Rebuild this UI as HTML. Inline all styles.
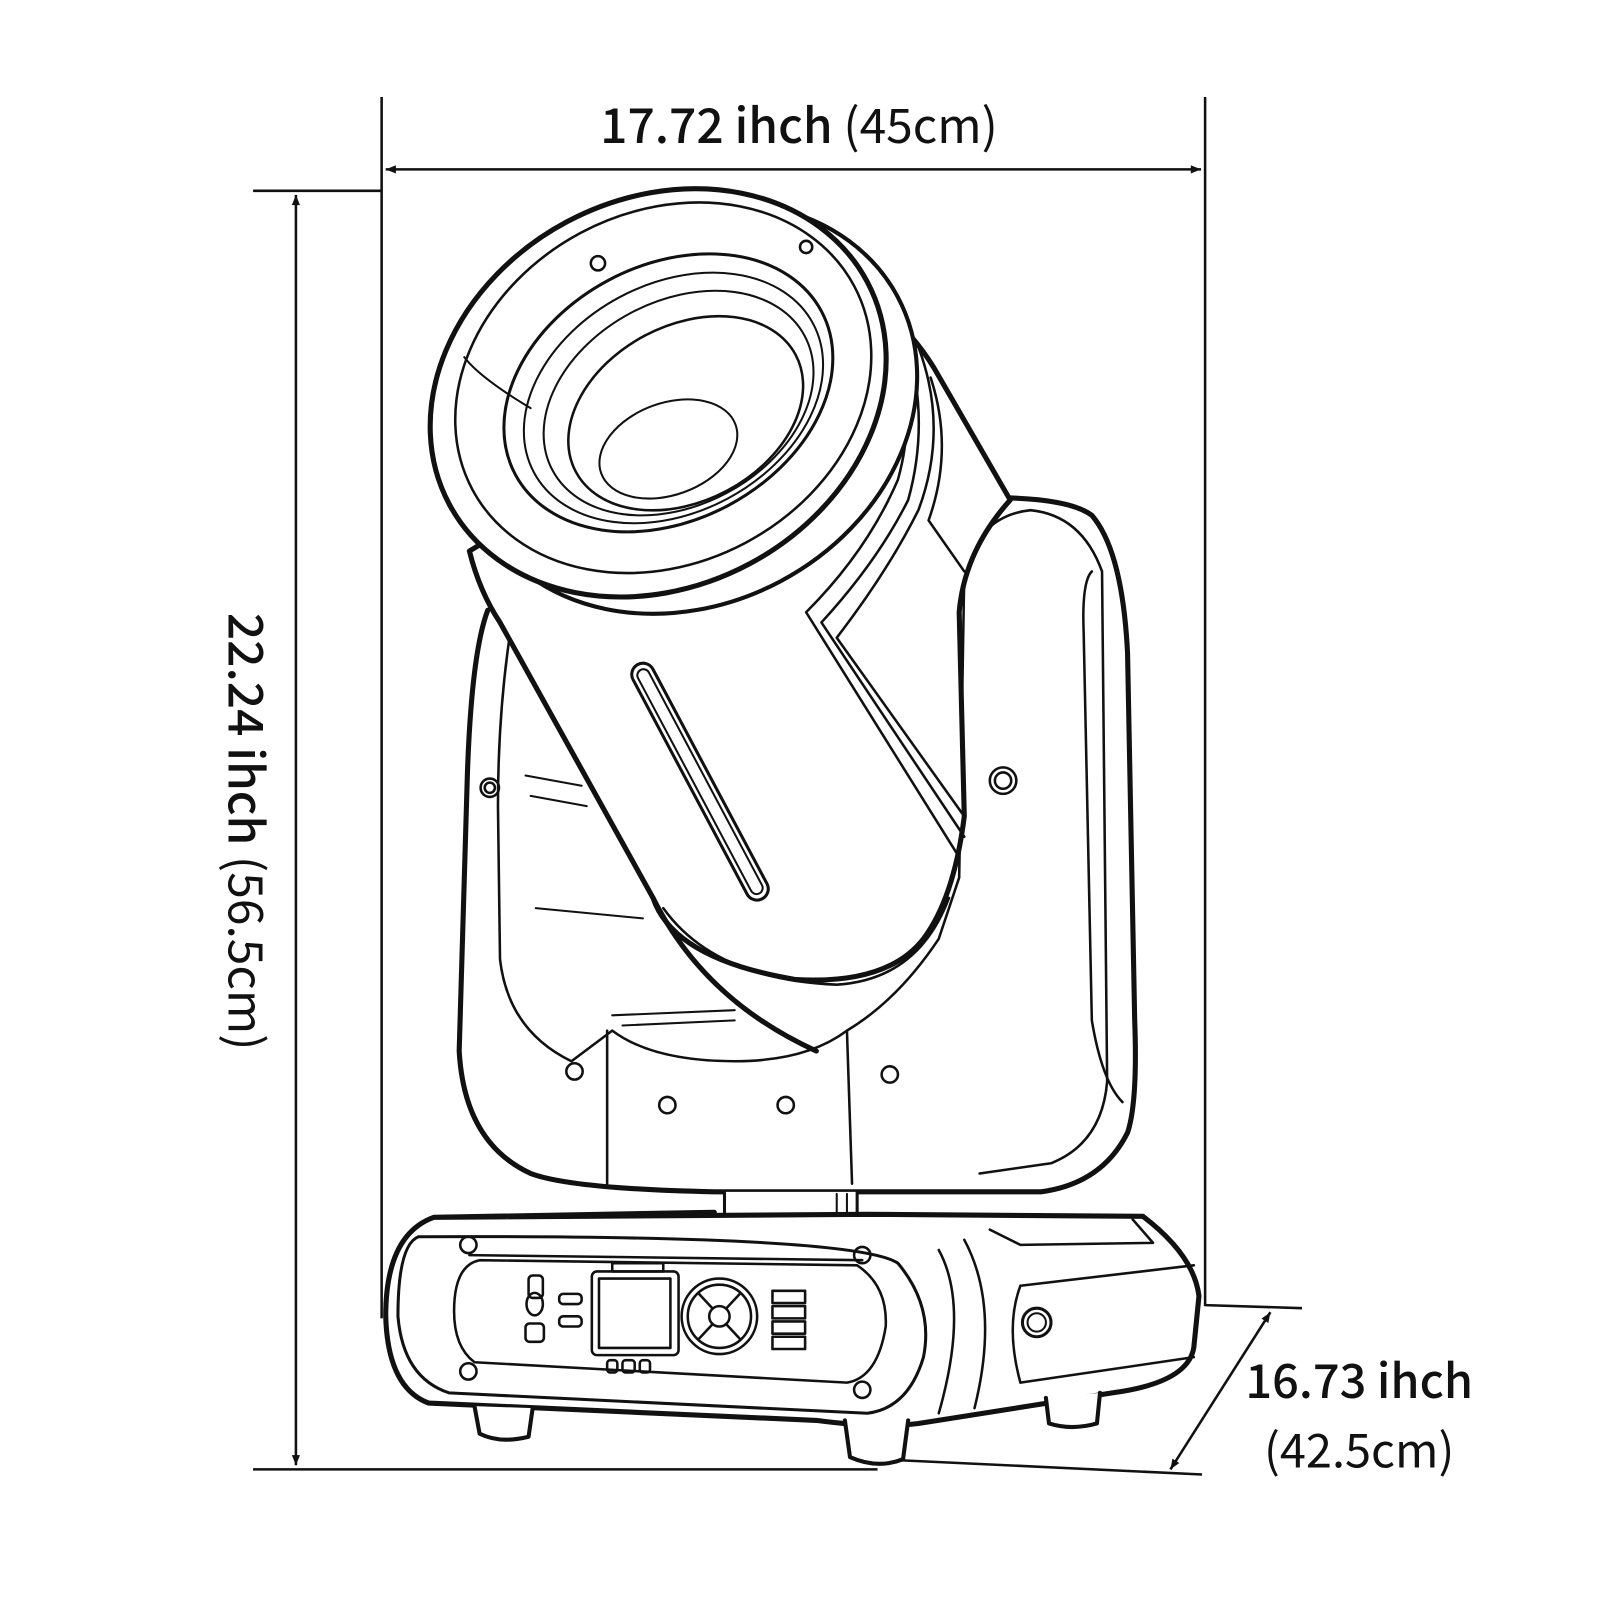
<!DOCTYPE html>
<html><head><meta charset="utf-8"><style>
html,body{margin:0;padding:0;background:#fff}
svg{display:block}
text{font-family:"Noto Sans CJK SC","Liberation Sans",sans-serif;fill:#111}
</style></head><body>
<svg width="1600" height="1600" viewBox="0 0 1568 1568" xmlns="http://www.w3.org/2000/svg">
<defs>
<marker id="ar" viewBox="0 0 10 10" refX="10" refY="5" markerWidth="14" markerHeight="10" orient="auto-start-reverse" markerUnits="userSpaceOnUse"><path d="M0,1 L10,5 L0,9 z" fill="#111"/></marker>
</defs>
<g stroke="#111" fill="none" stroke-width="2.5">
<line x1="374" y1="95" x2="374" y2="1292"/>
<line x1="1181" y1="95" x2="1181" y2="1280"/>
<line x1="378" y1="166" x2="1177" y2="166" marker-start="url(#ar)" marker-end="url(#ar)"/>
<line x1="248" y1="187" x2="374" y2="187"/>
<line x1="248" y1="1440" x2="860" y2="1440"/>
<line x1="290" y1="191" x2="290" y2="1436" marker-start="url(#ar)" marker-end="url(#ar)"/>
<line x1="1181" y1="1279" x2="1276" y2="1282"/>
<line x1="860" y1="1430" x2="1178" y2="1445"/>
<line x1="1245" y1="1286" x2="1147" y2="1440" marker-start="url(#ar)" marker-end="url(#ar)"/>
</g>
<text x="783" y="140" font-size="47" text-anchor="middle"><tspan font-weight="500">17.72 ihch</tspan> (45cm)</text>
<text transform="translate(224,815) rotate(90)" font-size="47" text-anchor="middle"><tspan font-weight="500">22.24 ihch</tspan> (56.5cm)</text>
<text x="1332" y="1370" font-size="46" text-anchor="middle" font-weight="500">16.73 ihch</text>
<text x="1332" y="1438" font-size="46" text-anchor="middle">(42.5cm)</text>

<g stroke="#111" fill="none" stroke-linejoin="round" stroke-linecap="round">
<path stroke-width="5" d="M478,598 Q462,640 458,760 L450,1030 Q455,1120 520,1150 Q560,1165 700,1168 L1020,1168 Q1080,1160 1105,1110 Q1115,1080 1112,1000 L1105,640 Q1100,540 1070,505 Q1050,490 990,488 Q955,492 940,530 L935,580"/>
<path stroke-width="2.5" d="M500,620 Q488,700 488,790 L490,940 Q498,1010 560,1040 L600,1010 Q640,1040 720,1040 Q790,1040 830,1010 Q880,980 920,920 L940,860 L945,560 Q960,505 1010,500 Q1060,505 1080,560 L1085,1060 Q1080,1120 1030,1140 L960,1150"/>
<path stroke-width="2.5" d="M1070,560 Q1060,570 1062,620 L1070,1000 Q1080,1060 1100,1080"/>
<path stroke-width="2.5" d="M595,1010 L595,1160 M830,1010 L835,1160"/>
<path stroke-width="2" d="M515,760 L570,770 M520,780 L575,790 M525,890 L630,900 M600,995 L720,990 M610,1005 L720,1000"/>
<g stroke-width="2.5">
<circle cx="480" cy="772" r="9"/><circle cx="480" cy="772" r="5"/>
<circle cx="983" cy="765" r="13"/><circle cx="983" cy="765" r="8"/>
<circle cx="563" cy="1050" r="8"/><circle cx="654" cy="1083" r="8"/><circle cx="770" cy="1083" r="8"/><circle cx="872" cy="1053" r="8"/>
</g>
<path stroke-width="5" fill="#fff" d="M460,540 Q470,580 490,610 L640,880 Q660,940 780,960 Q870,965 905,920 Q935,880 945,800 L940,600 Q945,540 990,490 L915,360 Q890,320 860,300 Z"/>
<path stroke-width="5" d="M640,880 Q690,980 800,1030"/>
<path stroke-width="2.5" d="M650,890 Q700,960 820,965 Q900,960 930,880"/>
<path stroke-width="2.5" d="M860,300 Q905,380 880,470 Q850,540 790,600 L940,840 M880,310 Q915,400 890,490 Q860,550 805,610 L945,820 M900,340 Q930,420 900,500 Q870,560 820,625 L945,800 M912,370 Q935,440 910,510 L945,560"/>
<rect x="675" y="636" width="22" height="260" rx="11" transform="rotate(-28 686 766)" stroke-width="3"/>
<rect x="680" y="642" width="12" height="248" rx="6" transform="rotate(-28 686 766)" stroke-width="2"/>
<circle cx="755" cy="540" r="9" stroke-width="2.5"/>
<ellipse cx="675" cy="400" rx="232" ry="192" transform="rotate(-28 675 400)" stroke-width="4" fill="#fff"/>
<ellipse cx="645" cy="385" rx="232" ry="190" transform="rotate(-28 645 385)" stroke-width="5" fill="#fff"/>
<ellipse cx="650" cy="380" rx="212" ry="172" transform="rotate(-28 650 380)" stroke-width="2.5"/>
<ellipse cx="655" cy="385" rx="170" ry="125" transform="rotate(-28 655 385)" stroke-width="3"/>
<ellipse cx="660" cy="390" rx="155" ry="112" transform="rotate(-28 660 390)" stroke-width="2"/>
<ellipse cx="665" cy="395" rx="140" ry="100" transform="rotate(-28 665 395)" stroke-width="2"/>
<ellipse cx="672" cy="405" rx="122" ry="86" transform="rotate(-28 672 405)" stroke-width="2.5"/>
<ellipse cx="655" cy="440" rx="70" ry="45" transform="rotate(-20 655 440)" stroke-width="2"/>
<path stroke-width="2" d="M455,350 Q470,370 520,400"/>
<circle cx="586" cy="258" r="7" stroke-width="2.5"/><circle cx="790" cy="242" r="6" stroke-width="2.5"/>
<path stroke-width="3" fill="#fff" d="M710,1168 L710,1195 L840,1195 L840,1168"/>
<path stroke-width="2" d="M820,1170 L820,1195 M830,1170 L830,1195"/>
<path stroke-width="5" fill="#fff" d="M425,1193 L700,1188 M850,1190 L1120,1192 Q1170,1230 1175,1270 L1170,1320 Q1165,1355 1090,1365 L900,1395 Q860,1400 800,1392 L420,1375 Q380,1360 378,1290 Q378,1210 425,1193 Z"/>
<path stroke-width="3" d="M410,1212 Q840,1210 880,1238 Q915,1280 905,1330 Q890,1380 850,1385 L440,1365 Q395,1350 390,1290 Q390,1220 410,1212"/>
<path stroke-width="2.5" d="M470,1235 L840,1240 Q870,1260 868,1300 Q860,1350 830,1355 L465,1335 Q445,1320 445,1285 Q445,1240 470,1235"/>
<path stroke-width="2.5" d="M460,1230 L845,1235"/>
<path stroke-width="2.5" d="M920,1225 Q950,1280 920,1385 M945,1215 Q980,1280 955,1380"/>
<path stroke-width="2.5" d="M1000,1260 L1170,1240 M1000,1355 L1170,1330 M1000,1260 Q985,1300 1000,1355 M970,1205 L1000,1220 L1130,1218 L1110,1195"/>
<circle cx="1016" cy="1296" r="14" stroke-width="3"/><circle cx="1016" cy="1296" r="9" stroke-width="2"/>
<g stroke-width="2.5">
<circle cx="459" cy="1220" r="8"/><circle cx="459" cy="1344" r="8"/><circle cx="845" cy="1230" r="8"/><circle cx="845" cy="1362" r="8"/>
<rect x="580" y="1246" width="85" height="82" rx="5"/><rect x="587" y="1253" width="70" height="68"/>
<rect x="600" y="1238" width="50" height="8"/>
<circle cx="705" cy="1290" r="37"/><circle cx="705" cy="1290" r="31"/><circle cx="705" cy="1290" r="10"/>
<path d="M685,1268 L698,1282 M725,1268 L712,1282 M685,1312 L698,1298 M725,1312 L712,1298"/>
<rect x="518" y="1250" width="14" height="22" rx="4"/><ellipse cx="524" cy="1278" rx="8" ry="11"/><rect x="515" y="1297" width="18" height="18" rx="4"/>
<rect x="548" y="1268" width="22" height="10" rx="4"/><rect x="548" y="1290" width="22" height="10" rx="4"/>
<rect x="595" y="1333" width="10" height="12" rx="3"/><rect x="610" y="1333" width="12" height="12" rx="3"/><rect x="627" y="1333" width="10" height="12" rx="3"/>
<path d="M757,1265 h32 v12 h-32 z M757,1280 h32 v12 h-32 z M757,1295 h32 v12 h-32 z M757,1310 h32 v12 h-32 z"/>
</g>
<path stroke-width="4" fill="#fff" d="M465,1378 L470,1405 Q490,1415 518,1408 L522,1380"/>
<path stroke-width="4" fill="#fff" d="M828,1392 L833,1428 Q860,1440 885,1430 L890,1392"/>
<path stroke-width="4" fill="#fff" d="M1025,1370 L1028,1395 Q1050,1402 1075,1395 L1078,1365"/>
</g>
</svg>
</body></html>
